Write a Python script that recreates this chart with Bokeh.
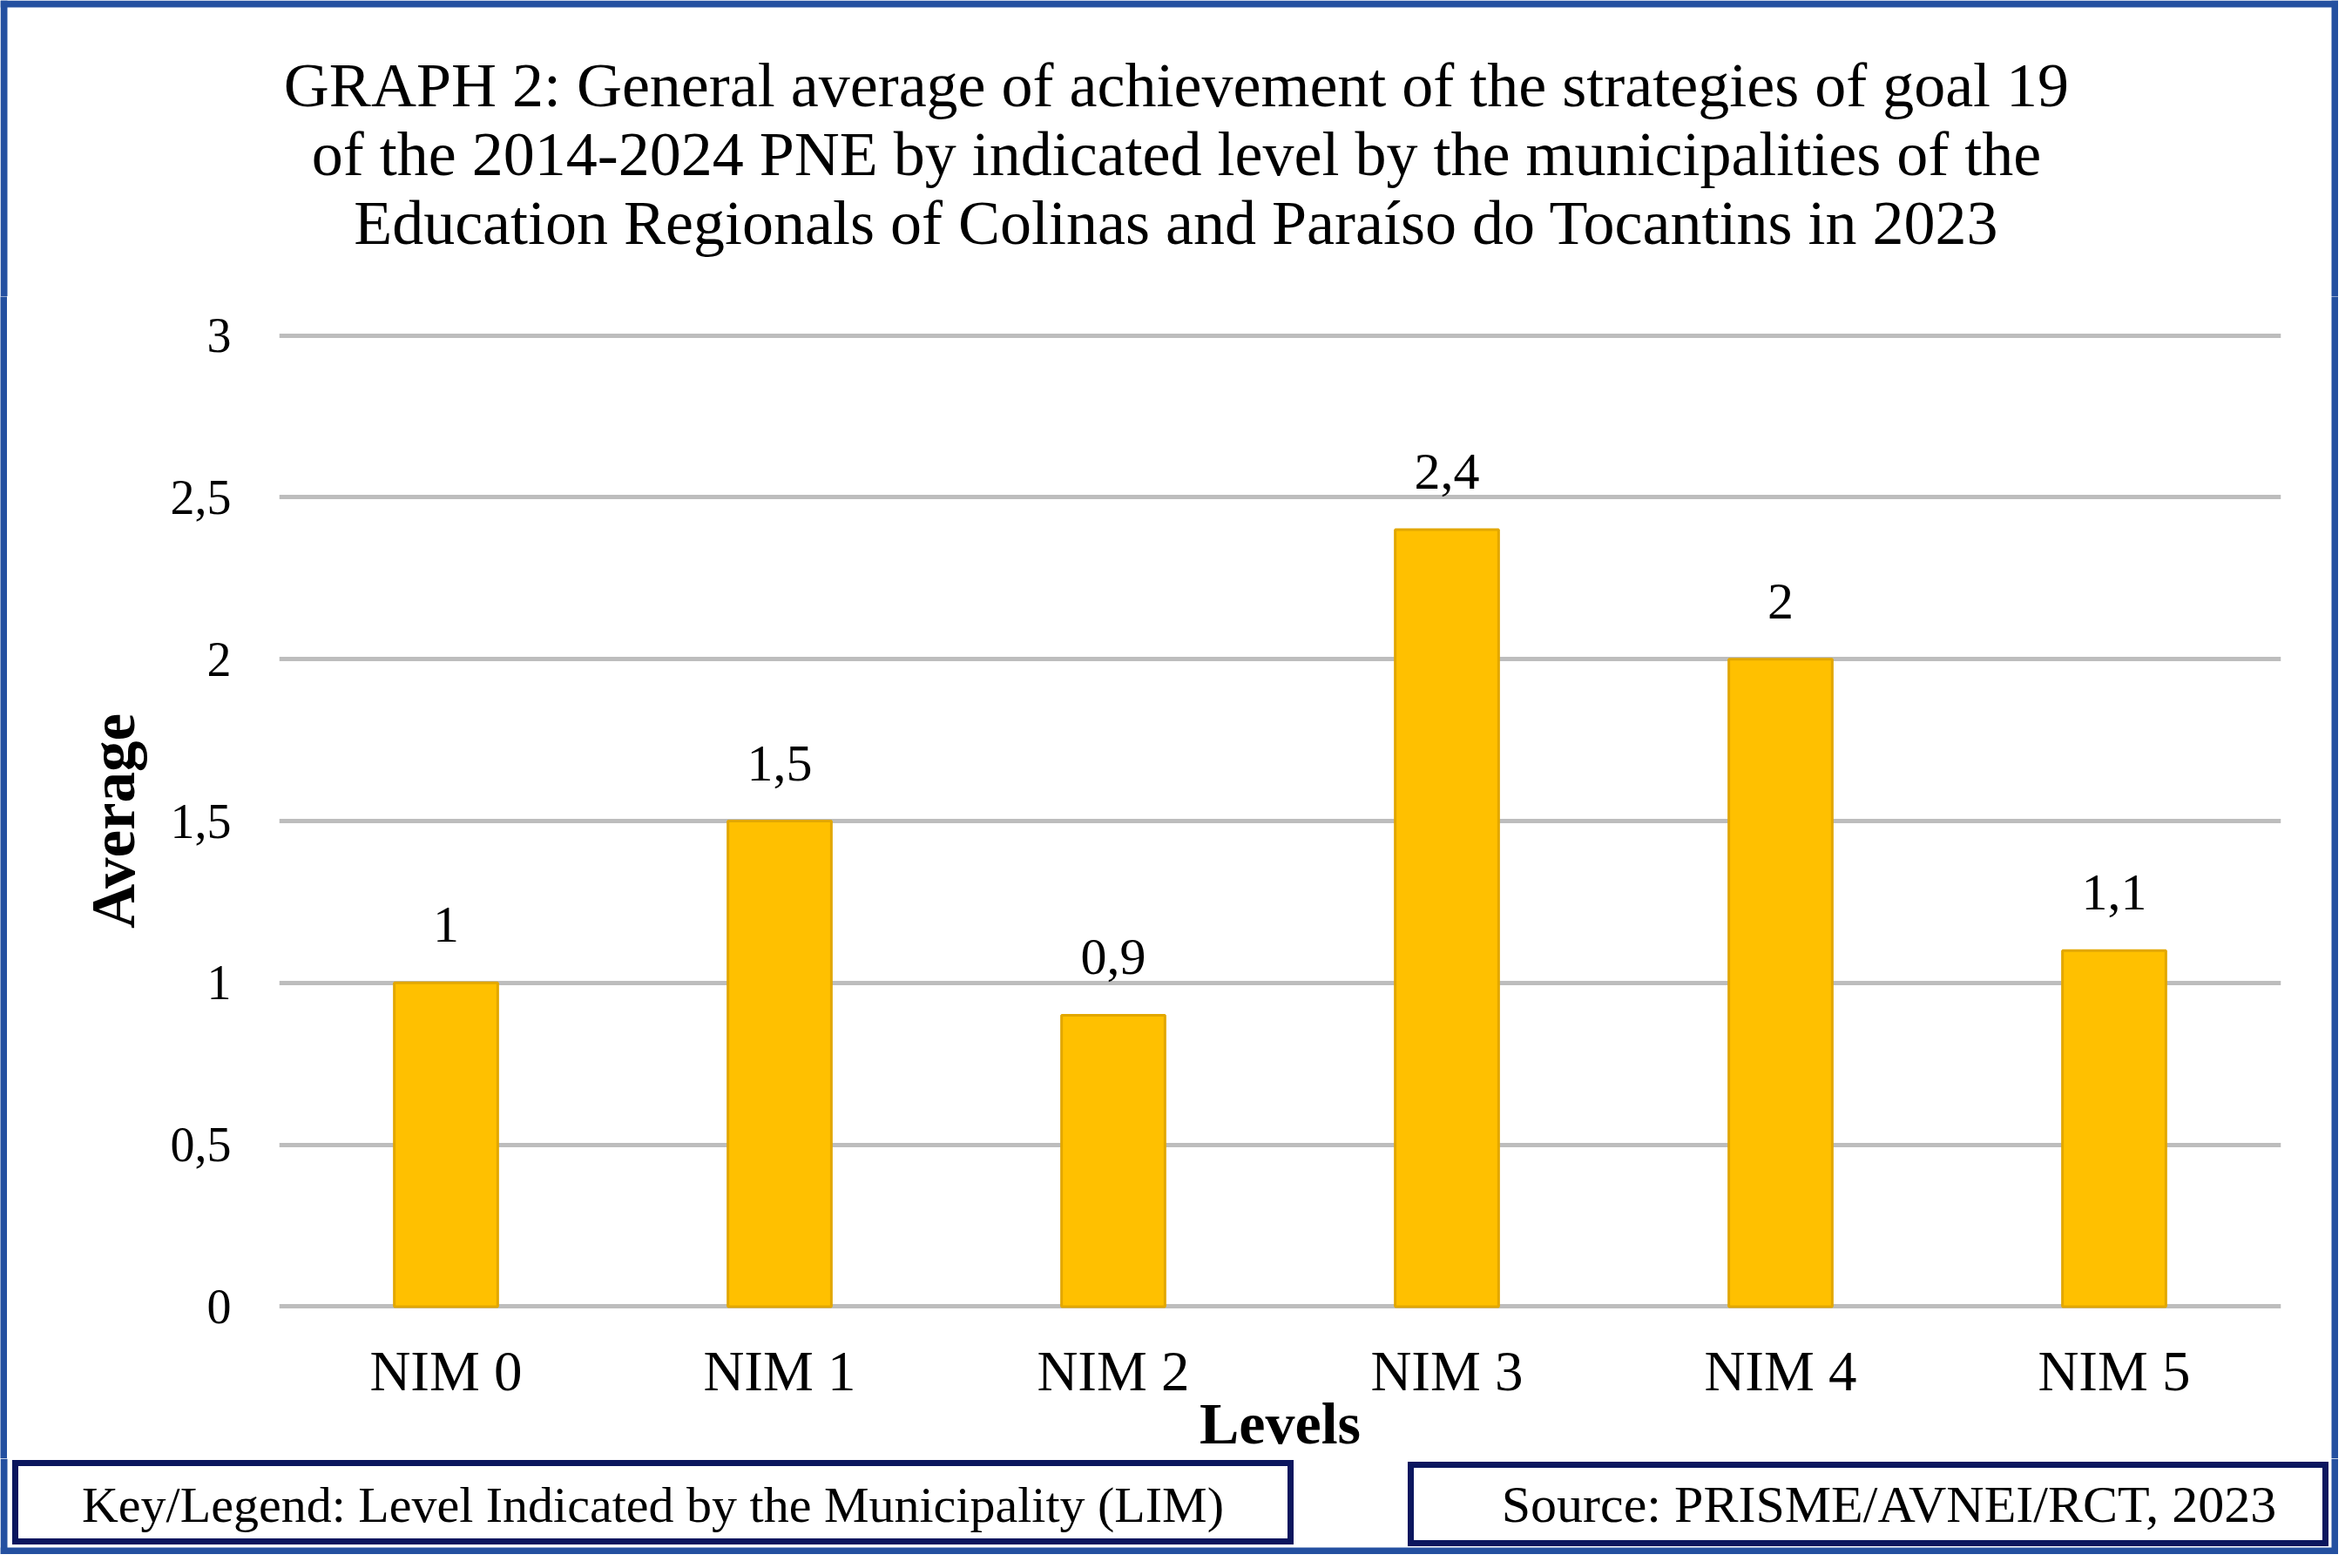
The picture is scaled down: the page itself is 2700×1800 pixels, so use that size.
from bokeh.plotting import figure
from bokeh.layouts import column, row
from bokeh.models import (ColumnDataSource, FactorRange, Range1d, FixedTicker, LabelSet)
from bokeh.core.properties import value
from bokeh.embed import file_html
from bokeh.resources import INLINE

# ---- data ----
levels = ["NIM 0", "NIM 1", "NIM 2", "NIM 3", "NIM 4", "NIM 5"]
averages = [1.0, 1.5, 0.9, 2.4, 2.0, 1.1]
y_ticks = [0, 0.5, 1, 1.5, 2, 2.5, 3]
y_tick_labels = ["0", "0,5", "1", "1,5", "2", "2,5", "3"]
title_lines = [
    "GRAPH 2: General average of achievement of the strategies of goal 19",
    "of the 2014-2024 PNE by indicated level by the municipalities of the",
    "Education Regionals of Colinas and Paraíso do Tocantins in 2023",
]
x_label = "Levels"
y_label = "Average"
legend_text = "Key/Legend: Level Indicated by the Municipality (LIM)"
source_text = "Source: PRISME/AVNEI/RCT, 2023"

# ---- geometry (canvas pixels, y measured from the top) ----
FONT = "Liberation Serif"
W, H = 2684, 1784
B = 8                      # outer border width
BLUE = "#2450A0"
NAVY = "#0B165E"
HH = 340                   # header height
FT = 1674                  # footer top
HM = FT - HH               # chart row height
HF = H - FT                # footer height

def no_align(f):
    try:
        f.frame_align = False
    except Exception:
        pass
    return f

def blank(w, h, bg="white"):
    f = figure(width=w, height=h, x_range=Range1d(0, w), y_range=Range1d(0, h),
               x_axis_type=None, y_axis_type=None, output_backend="svg",
               toolbar_location=None, min_border=0, min_border_left=0,
               min_border_right=0, min_border_top=0, min_border_bottom=0)
    f.outline_line_color = None
    f.background_fill_color = bg
    f.border_fill_color = bg
    f.grid.visible = False
    return no_align(f)

def texts(f, xs, ys, strings, size):
    f.add_layout(LabelSet(x="x", y="y", text="t",
                          source=ColumnDataSource(dict(x=xs, y=ys, t=strings)),
                          text_align="center", text_baseline="alphabetic",
                          text_font=value(FONT), text_font_size=value(size),
                          text_color="black"))

# ---- header: title + top/side border ----
head = blank(W, HH)
def hy(y): return HH - y
head.quad(left=[0, 0, W - B], right=[W, B, W], top=[hy(0)] * 3,
          bottom=[hy(B), hy(HH), hy(HH)], fill_color=BLUE, line_color=None)
texts(head, [1350] * 3, [hy(121), hy(200), hy(279)], title_lines, "72px")

# ---- main chart ----
PW = W - 2 * B
pad = 0.015
frame_left, frame_right = 320 - B, 2618 - B
y3, y0 = 385 - HH, 1501 - HH
ppu = (y0 - y3) / 3
frame_top, frame_bottom = y3 - pad * ppu, y0 + pad * ppu

bar_labels = [f"{v:g}".replace(".", ",") for v in averages]
src = ColumnDataSource(dict(level=levels, avg=averages, label=bar_labels))

p = figure(width=PW, height=HM, x_range=FactorRange(factors=levels),
           y_range=Range1d(-pad, 3 + pad), output_backend="svg",
           toolbar_location=None,
           min_border_left=int(round(frame_left)),
           min_border_right=int(round(PW - frame_right)),
           min_border_top=int(round(frame_top)),
           min_border_bottom=int(round(HM - frame_bottom)))
no_align(p)
p.background_fill_color = "white"
p.border_fill_color = "white"
p.outline_line_color = None

p.vbar(x="level", top="avg", width=0.31, source=src,
       fill_color="#FFC000", line_color="#E2A700", line_width=3)

p.xaxis.axis_line_color = None
p.xaxis.major_tick_line_color = None
p.xaxis.minor_tick_line_color = None
p.xaxis.major_tick_out = 0
p.xaxis.major_label_text_font = FONT
p.xaxis.major_label_text_font_size = "65px"
p.xaxis.major_label_text_color = "black"
p.xaxis.major_label_standoff = 32
p.xaxis.axis_label = x_label
p.xaxis.axis_label_text_font = FONT
p.xaxis.axis_label_text_font_size = "68px"
p.xaxis.axis_label_text_font_style = "bold"
p.xaxis.axis_label_text_color = "black"
p.xaxis.axis_label_standoff = -17

p.yaxis.ticker = FixedTicker(ticks=y_ticks)
p.yaxis.major_label_overrides = dict(zip(y_ticks, y_tick_labels))
p.yaxis.axis_line_color = None
p.yaxis.major_tick_line_color = None
p.yaxis.minor_tick_line_color = None
p.yaxis.major_tick_out = 0
p.yaxis.major_label_text_font = FONT
p.yaxis.major_label_text_font_size = "56px"
p.yaxis.major_label_text_color = "black"
p.yaxis.major_label_standoff = 55
p.yaxis.axis_label = y_label
p.yaxis.axis_label_text_font = FONT
p.yaxis.axis_label_text_font_size = "71px"
p.yaxis.axis_label_text_font_style = "bold"
p.yaxis.axis_label_text_color = "black"
p.yaxis.axis_label_standoff = 24

p.xgrid.grid_line_color = None
p.ygrid.ticker = FixedTicker(ticks=y_ticks)
p.ygrid.grid_line_color = "#BDBDBD"
p.ygrid.grid_line_width = 5

p.add_layout(LabelSet(x="level", y="avg", text="label", source=src,
                      y_offset=47, text_align="center",
                      text_baseline="alphabetic",
                      text_font=value(FONT), text_font_size=value("60px"),
                      text_color="black"))

lstrip = blank(B, HM, bg=BLUE)
rstrip = blank(B, HM, bg=BLUE)
mid = row(lstrip, p, rstrip, spacing=0)

# ---- footer: legend / source boxes + bottom/side border ----
foot = blank(W, HF)
def fy(y): return HF - (y - FT)
foot.quad(left=[0, W - B, 0], right=[B, W, W], top=[fy(FT), fy(FT), fy(H - B)],
          bottom=[fy(H)] * 3, fill_color=BLUE, line_color=None)
foot.quad(left=[17, 1619], right=[1481, 2669],
          top=[fy(1679), fy(1681)], bottom=[fy(1769), fy(1771)],
          fill_color="white", line_color=NAVY, line_width=7, line_join="miter")
texts(foot, [749], [fy(1746)], [legend_text], "58px")
texts(foot, [2168], [fy(1746)], [source_text], "60px")

layout = column(head, mid, foot, spacing=0)

open("out.html", "w").write(file_html(layout, INLINE))
